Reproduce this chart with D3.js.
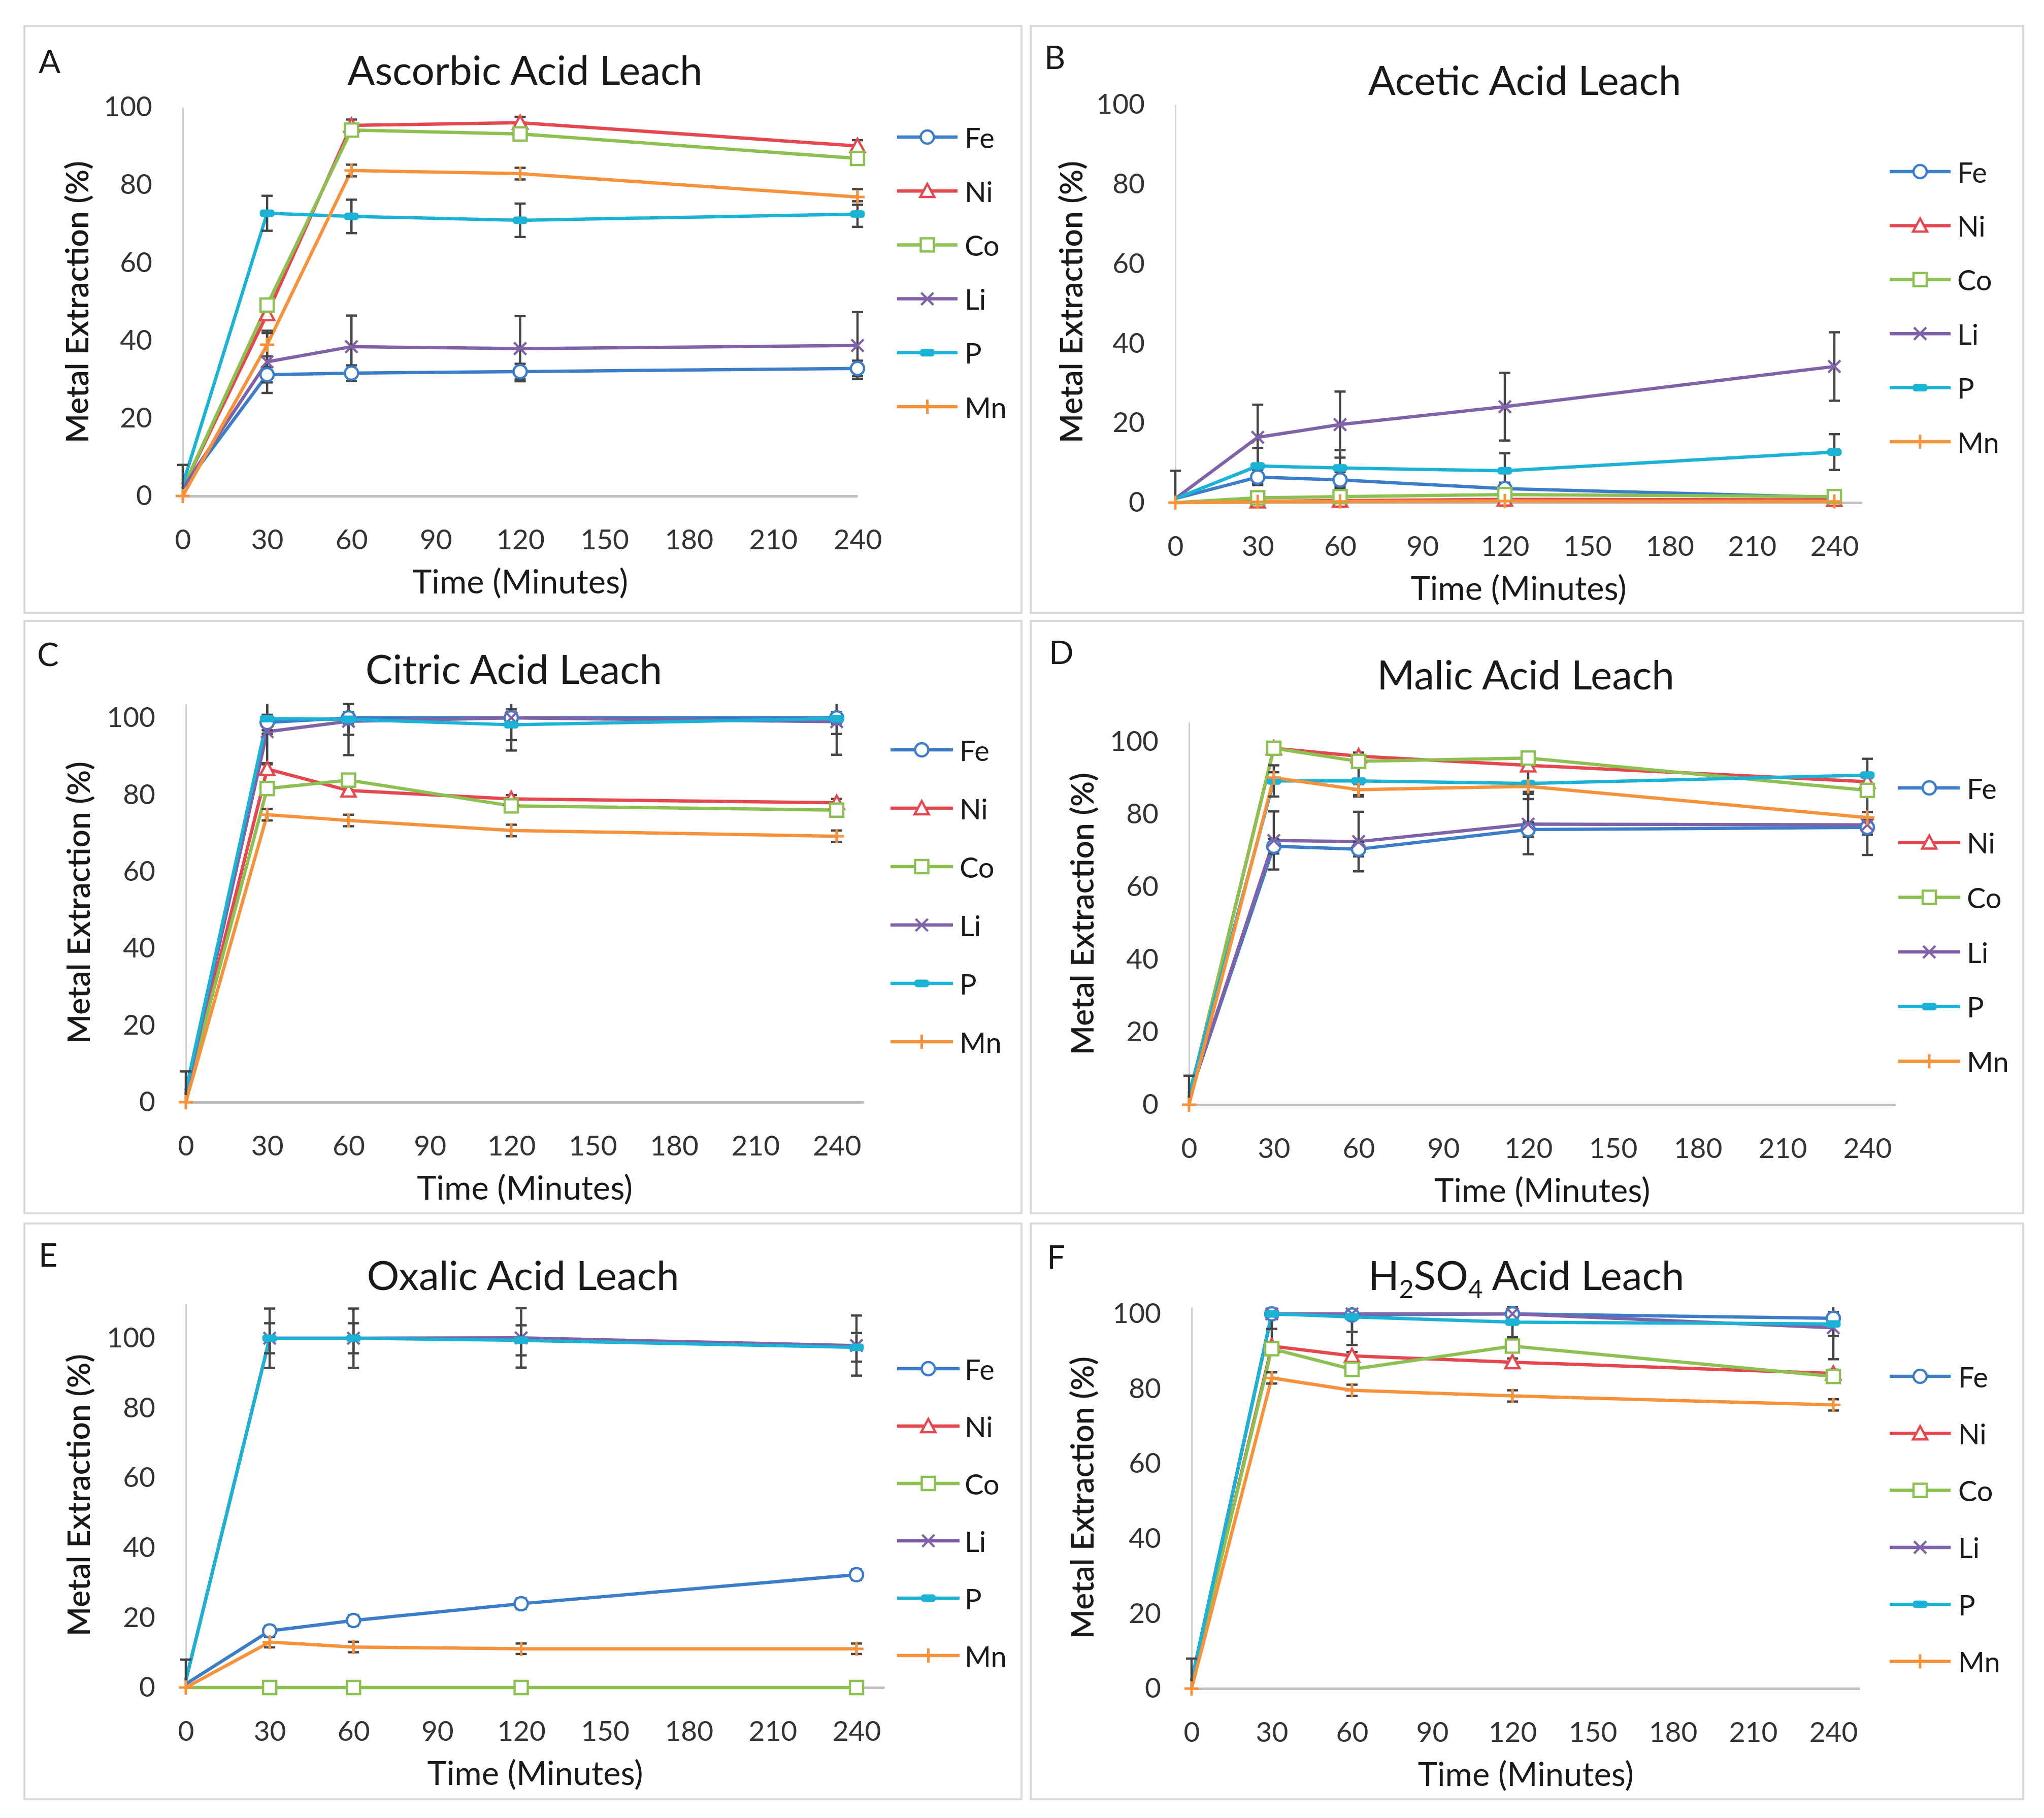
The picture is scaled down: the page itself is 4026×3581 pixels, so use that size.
<!DOCTYPE html>
<html>
<head>
<meta charset="utf-8">
<script src="https://cdn.jsdelivr.net/npm/d3@7"></script>
<style>
  body { margin: 0; background: #ffffff; }
  svg text { font-family: Lato, "Open Sans", sans-serif; }
</style>
</head>
<body>
<script>
var svgWidth = 4026;
var svgHeight = 3581;

// ---- data ----
const times = [0, 30, 60, 120, 240];
const metals = ["Fe", "Ni", "Co", "Li", "P", "Mn"];
const metalColors = ["#3b7dc8", "#e6474f", "#8cc152", "#8062a8", "#1ab3d5", "#f7923b"];
const xTickValues = [0, 30, 60, 90, 120, 150, 180, 210, 240];
const yTickValues = [0, 20, 40, 60, 80, 100];
const panelLetters = ["A", "B", "C", "D", "E", "F"];
const panelTitles = ["Ascorbic Acid Leach", "Acetic Acid Leach", "Citric Acid Leach",
                     "Malic Acid Leach", "Oxalic Acid Leach", "H2SO4 Acid Leach"];
const zeroMarked = ["Mn"];

// rows follow metals: Fe, Ni, Co, Li, P, Mn ; columns follow times
const ascorbicValues = [
  [2, 31.2, 31.6, 32.0, 32.8],
  [2, 46.8, 95.3, 96.0, 90.0],
  [2, 49.1, 94.1, 93.1, 86.8],
  [2, 34.5, 38.4, 37.9, 38.7],
  [3, 72.7, 71.9, 70.9, 72.5],
  [0, 38.9, 83.7, 82.9, 76.9]
];
const ascorbicErrors = [
  [0, 2, 2, 2, 2],
  [0, 1.5, 1.5, 1.5, 1.5],
  [0, 1, 1, 1, 1],
  [6, 8, 8, 8.4, 8.6],
  [0, 4.5, 4.3, 4.3, 3.3],
  [0, 3, 1.5, 1.5, 2]
];

const aceticValues = [
  [1, 6.4, 5.7, 3.5, 1.3],
  [0, 0.3, 0.5, 0.8, 0.7],
  [0, 1.2, 1.5, 2.0, 1.5],
  [1, 16.4, 19.6, 24.1, 34.2],
  [1, 9.2, 8.7, 8.0, 12.7],
  [0, 0.2, 0.3, 0.4, 0.3]
];
const aceticErrors = [
  [0, 2, 2, 1.5, 1],
  [0, 0.3, 0.3, 0.3, 0.3],
  [0, 1, 1, 1, 1],
  [7, 8.2, 8.3, 8.5, 8.6],
  [0, 4.5, 4.5, 4.4, 4.5],
  [0, 0.2, 0.2, 0.2, 0.2]
];

const citricValues = [
  [2, 98.8, 100, 100, 100],
  [2, 86.7, 81.1, 78.9, 77.9],
  [2, 81.6, 83.8, 77.1, 76.0],
  [2, 96.4, 99.1, 100, 99.0],
  [3, 99.8, 99.6, 98.2, 99.8],
  [0, 74.8, 73.3, 70.7, 69.2]
];
const citricErrors = [
  [0, 2, 1.5, 1.5, 1.5],
  [0, 1.5, 1, 1, 1],
  [0, 1, 1, 1, 1],
  [6, 8.5, 8.8, 8.5, 8.6],
  [0, 4, 4, 4, 4],
  [0, 1.5, 1.5, 1.5, 1.5]
];

const malicValues = [
  [2, 71.2, 70.4, 75.8, 76.4],
  [2, 98.2, 96.0, 93.5, 89.0],
  [2, 98.2, 94.6, 95.5, 86.6],
  [2, 72.8, 72.5, 77.3, 77.1],
  [3, 89.2, 89.2, 88.5, 90.8],
  [0, 90.1, 86.8, 87.7, 79.1]
];
const malicErrors = [
  [0, 2, 2, 2, 2],
  [0, 1, 1, 1, 1],
  [0, 1, 1, 1, 1],
  [6, 8, 8.2, 8.3, 8.3],
  [0, 4.3, 4.3, 4.3, 4.5],
  [0, 1.5, 1.5, 1.5, 1.5]
];

const oxalicValues = [
  [1, 16.2, 19.2, 24.0, 32.3],
  [null, null, null, null, null],
  [0, 0, 0, 0, 0],
  [2, 100, 100, 100.1, 97.9],
  [2, 100, 100, 99.4, 97.4],
  [0, 13.0, 11.6, 11.1, 11.1]
];
const oxalicErrors = [
  [0, 1.5, 1.5, 1.5, 1.5],
  [0, 0, 0, 0, 0],
  [0, 0, 0, 0, 0],
  [6, 8.5, 8.5, 8.5, 8.6],
  [0, 4.3, 4.3, 4.3, 4.1],
  [0, 1.5, 1.5, 1.5, 1.5]
];

const sulfuricValues = [
  [2, 100, 99.7, 100, 98.8],
  [2, 91.4, 88.8, 87.1, 84.1],
  [2, 90.7, 85.2, 91.4, 83.3],
  [2, 100, 100, 100, 96.3],
  [2, 100, 99.2, 97.8, 97.3],
  [0, 82.9, 79.6, 78.1, 75.7]
];
const sulfuricErrors = [
  [0, 1, 1, 1, 1],
  [0, 1, 1, 1, 1],
  [0, 1.5, 1.5, 1.5, 1.5],
  [6, 8, 8.3, 6.5, 8.4],
  [0, 4, 4, 4, 3.2],
  [0, 1.5, 1.5, 1.5, 1.5]
];

const panelValues = [ascorbicValues, aceticValues, citricValues, malicValues, oxalicValues, sulfuricValues];
const panelErrors = [ascorbicErrors, aceticErrors, citricErrors, malicErrors, oxalicErrors, sulfuricErrors];
const panelYMax = [100, 100, 103.6, 105.4, 110, 101.8];
const panelXMax = [240, 250, 250, 250, 250, 250];

// ---- layout (pixels) ----
var layout = [
  { box: [48, 51, 2012, 1207], x0: 360, x240: 1689, y0: 977, y100: 211, letter: [76, 144], title: [1034, 167], yTitle: [150, 595], leg: [1767, 1886, 1900, 270, 106.2] },
  { box: [2030, 51, 3985, 1207], x0: 2315, x240: 3613, y0: 990, y100: 206, letter: [2057, 136], title: [3003, 187], yTitle: [2108, 595], leg: [3722, 3842, 3855, 338, 106.4] },
  { box: [48, 1223, 2012, 2390], x0: 366, x240: 1648, y0: 2171, y100: 1414, letter: [73, 1312], title: [1012, 1347], yTitle: [153, 1778], leg: [1754, 1877, 1890, 1477, 115] },
  { box: [2030, 1223, 3985, 2390], x0: 2342, x240: 3678, y0: 2176, y100: 1461, letter: [2066, 1308], title: [3005, 1358], yTitle: [2130, 1800], leg: [3739, 3861, 3874, 1552, 107.7] },
  { box: [48, 2410, 2012, 3544], x0: 366, x240: 1687, y0: 3324, y100: 2636, letter: [76, 2495], title: [1030, 2541], yTitle: [153, 2945], leg: [1767, 1890, 1900, 2696, 113] },
  { box: [2030, 2410, 3985, 3544], x0: 2347, x240: 3611, y0: 3326, y100: 2588, letter: [2062, 2499], title: [3006, 2541], yTitle: [2130, 2950], leg: [3722, 3842, 3857, 2711, 112.3] }
];

var tickFont = 55;
var titleFont = 80;
var axisTitleFont = 65;
var legendFont = 56;
var letterFont = 64;
var yTitleFont = 62;

var svg = d3.select("body").append("svg")
  .attr("width", svgWidth)
  .attr("height", svgHeight);

svg.append("rect").attr("width", svgWidth).attr("height", svgHeight).attr("fill", "#ffffff");

// marker shapes
function drawMarker(g, metal, cx, cy, color) {
  if (metal === "Fe") {
    g.append("circle").attr("cx", cx).attr("cy", cy).attr("r", 13)
      .attr("fill", "#ffffff").attr("stroke", color).attr("stroke-width", 4.5);
  } else if (metal === "Ni") {
    var s = 14;
    g.append("path")
      .attr("d", "M" + cx + "," + (cy - s) + "L" + (cx + s) + "," + (cy + s * 0.85) + "L" + (cx - s) + "," + (cy + s * 0.85) + "Z")
      .attr("fill", "#ffffff").attr("stroke", color).attr("stroke-width", 4.5);
  } else if (metal === "Co") {
    g.append("rect").attr("x", cx - 13).attr("y", cy - 13).attr("width", 26).attr("height", 26)
      .attr("fill", "#ffffff").attr("stroke", color).attr("stroke-width", 4.5);
  } else if (metal === "Li") {
    var k = 12;
    g.append("path")
      .attr("d", "M" + (cx - k) + "," + (cy - k) + "L" + (cx + k) + "," + (cy + k) + "M" + (cx + k) + "," + (cy - k) + "L" + (cx - k) + "," + (cy + k))
      .attr("fill", "none").attr("stroke", color).attr("stroke-width", 4.5);
  } else if (metal === "P") {
    g.append("rect").attr("x", cx - 14).attr("y", cy - 7).attr("width", 28).attr("height", 14)
      .attr("rx", 5).attr("fill", color).attr("stroke", color).attr("stroke-width", 1);
  } else if (metal === "Mn") {
    var p = 14;
    g.append("path")
      .attr("d", "M" + (cx - p) + "," + cy + "L" + (cx + p) + "," + cy + "M" + cx + "," + (cy - p) + "L" + cx + "," + (cy + p))
      .attr("fill", "none").attr("stroke", color).attr("stroke-width", 5);
  }
}

function drawPanel(i) {
  var L = layout[i];
  var values = panelValues[i];
  var errors = panelErrors[i];
  var yMax = panelYMax[i];
  var xMax = panelXMax[i];

  var g = svg.append("g").attr("class", "panel-" + panelLetters[i]);

  // panel frame
  g.append("rect")
    .attr("x", L.box[0]).attr("y", L.box[1])
    .attr("width", L.box[2] - L.box[0]).attr("height", L.box[3] - L.box[1])
    .attr("fill", "#ffffff").attr("stroke", "#d9d9d9").attr("stroke-width", 4);

  var pxPerMin = (L.x240 - L.x0) / 240;
  var pxPerPct = (L.y0 - L.y100) / 100;

  var x = d3.scaleLinear().domain([0, xMax]).range([L.x0, L.x0 + pxPerMin * xMax]);
  var y = d3.scaleLinear().domain([0, yMax]).range([L.y0, L.y0 - pxPerPct * yMax]);

  // axes
  var yAxis = g.append("g")
    .attr("transform", "translate(" + L.x0 + ",0)")
    .call(d3.axisLeft(y).tickValues(yTickValues).tickSize(0).tickPadding(60).tickFormat(d3.format("d")));
  yAxis.select(".domain").attr("stroke", "#d0d0d0").attr("stroke-width", 3);
  yAxis.selectAll("text").attr("font-size", tickFont).attr("fill", "#333333")
    .attr("font-family", "Lato, sans-serif");

  var xAxis = g.append("g")
    .attr("transform", "translate(0," + L.y0 + ")")
    .call(d3.axisBottom(x).tickValues(xTickValues).tickSize(0).tickPadding(66).tickFormat(d3.format("d")));
  xAxis.select(".domain").attr("stroke", "#c0c0c0").attr("stroke-width", 5);
  xAxis.selectAll("text").attr("font-size", tickFont).attr("fill", "#333333")
    .attr("font-family", "Lato, sans-serif");

  // titles
  g.append("text")
    .attr("x", L.letter[0]).attr("y", L.letter[1])
    .attr("font-size", letterFont).attr("fill", "#1a1a1a")
    .text(panelLetters[i]);

  var title = g.append("text")
    .attr("x", L.title[0]).attr("y", L.title[1])
    .attr("text-anchor", "middle")
    .attr("font-size", titleFont).attr("fill", "#1a1a1a");
  if (panelTitles[i].indexOf("H2SO4") === 0) {
    title.append("tspan").text("H");
    title.append("tspan").attr("font-size", titleFont * 0.62).attr("dy", 16).text("2");
    title.append("tspan").attr("dy", -16).text("SO");
    title.append("tspan").attr("font-size", titleFont * 0.62).attr("dy", 16).text("4");
    title.append("tspan").attr("dy", -16).text(panelTitles[i].slice(5));
  } else {
    title.text(panelTitles[i]);
  }

  g.append("text")
    .attr("transform", "translate(" + L.yTitle[0] + "," + L.yTitle[1] + ") rotate(-90)")
    .attr("text-anchor", "middle")
    .attr("dominant-baseline", "central")
    .attr("font-family", "'Open Sans', sans-serif")
    .attr("font-weight", 600)
    .attr("font-size", yTitleFont).attr("fill", "#1a1a1a")
    .text("Metal Extraction (%)");

  g.append("text")
    .attr("x", (x.range()[0] + x.range()[1]) / 2).attr("y", L.y0 + 192)
    .attr("text-anchor", "middle")
    .attr("font-size", axisTitleFont).attr("fill", "#1a1a1a")
    .text("Time (Minutes)");

  // series lines
  var line = d3.line()
    .defined(function(d) { return d.v !== null; })
    .x(function(d) { return x(d.t); })
    .y(function(d) { return y(d.v); });

  var seriesData = metals.map(function(m, j) {
    return times.map(function(t, k) {
      return { t: t, v: values[j][k], e: errors[j][k] };
    });
  });

  seriesData.forEach(function(pts, j) {
    g.append("path")
      .datum(pts)
      .attr("d", line)
      .attr("fill", "none")
      .attr("stroke", metalColors[j])
      .attr("stroke-width", 6.5)
      .attr("stroke-linejoin", "round");
  });

  // error bars
  seriesData.forEach(function(pts, j) {
    pts.forEach(function(d) {
      if (d.v === null || !d.e) return;
      var hi = Math.min(d.v + d.e, yMax);
      var lo = Math.max(d.v - d.e, 0);
      var cx = x(d.t);
      g.append("line")
        .attr("x1", cx).attr("x2", cx)
        .attr("y1", y(lo)).attr("y2", y(hi))
        .attr("stroke", "#454545").attr("stroke-width", 4.5);
      if (d.v + d.e <= yMax) {
        g.append("line").attr("x1", cx - 11).attr("x2", cx + 11)
          .attr("y1", y(hi)).attr("y2", y(hi))
          .attr("stroke", "#454545").attr("stroke-width", 4.5);
      }
      if (d.v - d.e >= 0) {
        g.append("line").attr("x1", cx - 11).attr("x2", cx + 11)
          .attr("y1", y(lo)).attr("y2", y(lo))
          .attr("stroke", "#454545").attr("stroke-width", 4.5);
      }
    });
  });

  // markers
  seriesData.forEach(function(pts, j) {
    pts.forEach(function(d) {
      if (d.v === null) return;
      if (d.t === 0 && zeroMarked.indexOf(metals[j]) < 0) return;
      drawMarker(g, metals[j], x(d.t), y(d.v), metalColors[j]);
    });
  });

  // legend
  metals.forEach(function(m, j) {
    var ly = L.leg[3] + j * L.leg[4];
    g.append("line")
      .attr("x1", L.leg[0]).attr("x2", L.leg[1])
      .attr("y1", ly).attr("y2", ly)
      .attr("stroke", metalColors[j]).attr("stroke-width", 6.5);
    drawMarker(g, m, (L.leg[0] + L.leg[1]) / 2, ly, metalColors[j]);
    g.append("text")
      .attr("x", L.leg[2]).attr("y", ly)
      .attr("dominant-baseline", "central")
      .attr("font-size", legendFont).attr("fill", "#1a1a1a")
      .text(m);
  });
}

for (var i = 0; i < layout.length; i++) {
  drawPanel(i);
}
</script>
</body>
</html>
